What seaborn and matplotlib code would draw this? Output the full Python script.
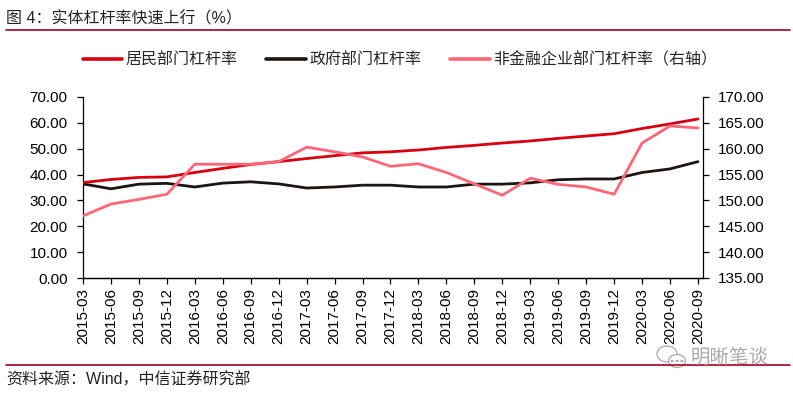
import matplotlib
matplotlib.use("Agg")
import matplotlib.pyplot as plt
from matplotlib.lines import Line2D
from matplotlib.patches import Ellipse, Circle
import seaborn as sns
import pandas as pd
import numpy as np

quarters = ["2015-03", "2015-06", "2015-09", "2015-12", "2016-03", "2016-06", "2016-09", "2016-12",
            "2017-03", "2017-06", "2017-09", "2017-12", "2018-03", "2018-06", "2018-09", "2018-12",
            "2019-03", "2019-06", "2019-09", "2019-12", "2020-03", "2020-06", "2020-09"]
household = [36.9, 38.1, 38.9, 39.1, 40.8, 42.4, 43.9, 45.0, 46.2, 47.3, 48.4, 48.8,
             49.5, 50.5, 51.3, 52.2, 53.0, 54.0, 54.9, 55.8, 57.8, 59.6, 61.5]
government = [36.4, 34.5, 36.3, 36.6, 35.2, 36.7, 37.2, 36.4, 34.8, 35.2, 35.9, 35.9,
              35.2, 35.2, 36.3, 36.3, 36.8, 38.0, 38.3, 38.3, 40.8, 42.2, 45.0]
corporate = [147.0, 149.3, 150.2, 151.2, 157.0, 157.0, 157.0, 157.5, 160.3, 159.4, 158.4, 156.6,
             157.1, 155.4, 153.2, 151.0, 154.3, 153.1, 152.6, 151.2, 161.1, 164.4, 164.0]
left_ticks = [0, 10, 20, 30, 40, 50, 60, 70]
right_ticks = [135, 140, 145, 150, 155, 160, 165, 170]

title = "图 4：实体杠杆率快速上行（%）"
names = ["居民部门杠杆率", "政府部门杠杆率", "非金融企业部门杠杆率（右轴）"]
source = "资料来源：Wind，中信证券研究部"
watermark = "明晰笔谈"

sns.set_style("ticks")
plt.rcParams['font.family'] = ['Liberation Sans', 'Noto Sans CJK SC', 'DejaVu Sans']

c_house = "#D7000F"
c_gov = "#1E1512"
c_corp = "#FF6677"
c_rule = "#A50021"
lw = 2.0

df = pd.DataFrame({"idx": np.arange(len(quarters)), "household": household,
                   "government": government, "corporate": corporate})

W, H = 793, 393
fig = plt.figure(figsize=(W / 100, H / 100), dpi=100)
ax = fig.add_axes([83 / W, 1 - 278 / H, (703 - 83) / W, (278 - 97) / H])
ax2 = ax.twinx()

sns.lineplot(data=df, x="idx", y="household", ax=ax, color=c_house, lw=lw, zorder=3)
sns.lineplot(data=df, x="idx", y="government", ax=ax, color=c_gov, lw=lw, zorder=2)
sns.lineplot(data=df, x="idx", y="corporate", ax=ax2, color=c_corp, lw=lw, zorder=2)

ax.set_xlim(0, 22.18)
ax.set_ylim(0, 70)
ax2.set_ylim(135, 170)
ax.set_yticks(left_ticks, [f"{v:.2f}" for v in left_ticks])
ax2.set_yticks(right_ticks, [f"{v:.2f}" for v in right_ticks])
ax.set_xticks(range(len(quarters)), quarters, rotation=90)
ax.set_xlabel("")
ax.set_ylabel("")
ax2.set_ylabel("")

for a in (ax, ax2):
    a.spines["top"].set_visible(False)
    for s in a.spines.values():
        s.set_color("black")
        s.set_linewidth(0.9)
    a.tick_params(colors="black", width=0.9, length=4, labelsize=11)
ax.spines["right"].set_visible(False)
ax2.spines["left"].set_visible(False)
ax.tick_params(axis="x", labelsize=11, pad=3)
ax.tick_params(axis="y", pad=7)
ax2.tick_params(axis="y", pad=7)

handles = [Line2D([], [], color=c, lw=lw * 1.3) for c in (c_house, c_gov, c_corp)]
fig.legend(handles, names, loc="center", bbox_to_anchor=(400 / W, 1 - 60 / H), ncol=3,
           frameon=False, fontsize=11.5, handlelength=2.5, handletextpad=0.2, columnspacing=1.8)

fig.text(6 / W, 1 - 19 / H, title, fontsize=11.5, ha="left", va="center", color="#222222")
fig.add_artist(Line2D([6 / W, 790 / W], [1 - 29.5 / H] * 2, color=c_rule, lw=1.2))
fig.add_artist(Line2D([6 / W, 790 / W], [1 - 365 / H] * 2, color=c_rule, lw=1.2))
fig.text(6 / W, 1 - 380 / H, source, fontsize=11.5, ha="left", va="center", color="#222222")

# watermark icon (two speech bubbles) and text
wm_col = "#AAAAAA"
fig.add_artist(Ellipse((667 / W, 1 - 354 / H), 20 / W, 16 / H, fill=False, ec=wm_col, lw=0.9,
                       transform=fig.transFigure))
fig.add_artist(Ellipse((677 / W, 1 - 361 / H), 17 / W, 13 / H, fc="white", ec=wm_col, lw=0.9,
                       transform=fig.transFigure))
for dx in (672, 677, 682):
    fig.add_artist(Circle((dx / W, 1 - 361 / H), 0.0012, color=wm_col, transform=fig.transFigure))
fig.text(690 / W, 1 - 358 / H, watermark, fontsize=14, ha="left", va="center", color=wm_col)

fig.savefig("out.png", dpi=100)
